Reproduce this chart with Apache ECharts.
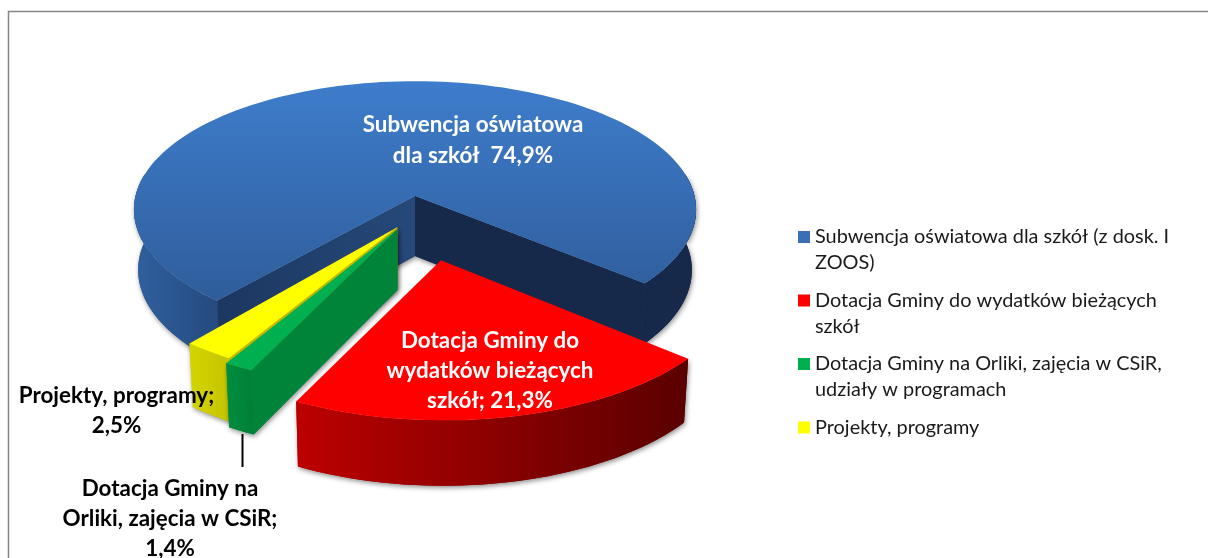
<!DOCTYPE html>
<html><head><meta charset="utf-8">
<style>html,body{margin:0;padding:0;background:#fff}#c{width:1208px;height:558px}</style>
<script src="https://cdn.jsdelivr.net/npm/echarts@6/dist/echarts.min.js"></script>
</head><body><div id="c"></div>
<script>
const categories = [
  'Subwencja oświatowa dla szkół (z dosk. I ZOOS)',
  'Dotacja Gminy do wydatków bieżących szkół',
  'Dotacja Gminy na Orliki, zajęcia w CSiR, udziały w programach',
  'Projekty, programy'
];
const shares = [74.9, 21.3, 1.4, 2.5];
const sliceLabels = [
  'Subwencja oświatowa\ndla szkół  74,9%',
  'Dotacja Gminy do\nwydatków bieżących\nszkół; 21,3%',
  'Dotacja Gminy na\nOrliki, zajęcia w CSiR;\n1,4%',
  'Projekty, programy;\n2,5%'
];
const legendLines = [
  ['Subwencja oświatowa dla szkół (z dosk. I', 'ZOOS)'],
  ['Dotacja Gminy do wydatków bieżących', 'szkół'],
  ['Dotacja Gminy na Orliki, zajęcia w CSiR,', 'udziały w programach'],
  ['Projekty, programy', ' ']
];
const swatches = ['#3A6FB8', '#FF0000', '#00B050', '#FFFF00'];

// projection of the tilted pie
const CX = 415, CY = 196, RX = 279.5, RY = 127, P = 0.106, H = 60, FIRST = 130.6;
const explode = [[0, 0], [0.088, 0.48], [-0.062, 0.255], [-0.062, 0.24]];
const radius = [1, 1.008, 1.045, 1.03];
const nudge = [0, 0, -1.1, -1];
const labelPos = [[473, 140], [490, 371], [170, 519], [116.5, 411]];
const total = shares.reduce((a, b) => a + b, 0);
const LG = (x0, y0, x1, y1, c0, c1) => new echarts.graphic.LinearGradient(x0, y0, x1, y1, [{offset: 0, color: c0}, {offset: 1, color: c1}]);
const looks = [
  {top: LG(0, 0, 0, 1, '#3E7DCC', '#2F5D9B'), bands: [LG(0, 0, 1, 0, '#30609F', '#254A7E'), '#16294A'],
   wallA: LG(0, 0, 1, 0, '#1C3760', '#26497A'), wallB: '#16294A'},
  {top: '#FF0000', bands: [LG(0, 0, 1, 0, '#BC0000', '#5A0000')], wallA: '#600000', wallB: '#600000'},
  {top: '#00B050', bands: [LG(0, 0, 1, 0, '#008E3F', '#007E37')], wallA: '#00843A', wallB: '#00843A'},
  {top: '#FFFF00', bands: [LG(0, 0, 1, 0, '#D4D400', '#C4C400')], wallA: '#C8B800', wallB: '#C8B800'}
];
const shadow = {shadowBlur: 5, shadowColor: 'rgba(0,0,0,0.45)', shadowOffsetY: 2, shadowOffsetX: 1};

function proj(x, z, down) {
  const s = 1 / (1 - P * z);
  const px = CX + RX * x * s, py = CY + RY * z * s;
  if (!down) return [px, py];
  return [CX + (px - CX) * 0.985, py + H * Math.sqrt(s)];
}
function arc(a0, a1, ox, oz, r, down) {
  const pts = [], n = Math.max(2, Math.ceil(Math.abs(a1 - a0) / 2));
  for (let i = 0; i <= n; i++) {
    const a = (a0 + (a1 - a0) * i / n) * Math.PI / 180;
    pts.push(proj(ox + r * Math.cos(a), oz + r * Math.sin(a), down));
  }
  return pts;
}
function poly(points, fill, extra) {
  return {type: 'polygon', silent: true, shape: {points}, style: Object.assign({fill}, extra || {})};
}
function wallFacing(apex, end, mid) {
  const d = [end[0] - apex[0], end[1] - apex[1]];
  const inner = d[0] * (mid[1] - apex[1]) - d[1] * (mid[0] - apex[0]);
  return d[0] * inner < 0;
}
function makeRender(idx) {
  return function (params, api) {
    const before = shares.slice(0, idx).reduce((a, b) => a + b, 0);
    const a0 = FIRST + nudge[idx] + before / total * 360;
    const a1 = a0 + api.value(0) / total * 360;
    const [ox, oz] = explode[idx], look = looks[idx], r = radius[idx];
    const sides = [];
    const apexT = proj(ox, oz), apexB = proj(ox, oz, true);
    const mid = (a0 + a1) / 2 * Math.PI / 180;
    const midPt = proj(ox + r * Math.cos(mid), oz + r * Math.sin(mid));
    const topArc = arc(a0, a1, ox, oz, r);
    const spans = idx === 0 ? [[a0, 190], [350, a1]] : [[a0, a1]];
    spans.forEach(([s0, s1], i) => {
      sides.push([arc(s0, s1, ox, oz, r).concat(arc(s0, s1, ox, oz, r, true).reverse()), look.bands[i]]);
    });
    [[a0, look.wallA], [a1, look.wallB]].forEach(([a, fill]) => {
      const t = a * Math.PI / 180;
      const end = proj(ox + r * Math.cos(t), oz + r * Math.sin(t));
      const endB = proj(ox + r * Math.cos(t), oz + r * Math.sin(t), true);
      if (wallFacing(apexT, end, midPt)) sides.push([[apexT, end, endB, apexB], fill]);
    });
    const children = sides.map(([p, f]) => poly(p, f, shadow)).concat(sides.map(([p, f]) => poly(p, f)));
    children.push(poly([apexT].concat(topArc), look.top));
    return {type: 'group', children};
  };
}
function labelRender(params, api) {
  const i = api.value(0);
  const white = i < 2;
  const kids = [{
    type: 'text', silent: true, x: labelPos[i][0], y: labelPos[i][1],
    style: {text: sliceLabels[i], fill: white ? '#FFFFFF' : '#000000', align: 'center', verticalAlign: 'middle',
      font: 'bold 22.4px Lato', lineHeight: i === 0 ? 31 : 30}
  }];
  if (i === 2) kids.push({type: 'line', silent: true, shape: {x1: 242.5, y1: 434, x2: 242.5, y2: 467}, style: {stroke: '#000', lineWidth: 2}});
  return {type: 'group', children: kids};
}
const series = categories.map((name, i) => ({
  type: 'custom', name, coordinateSystem: 'none', silent: true,
  itemStyle: {color: swatches[i]}, data: [[shares[i]]], renderItem: makeRender(i), z: [1, 4, 3, 2][i]
}));
series.push({type: 'custom', coordinateSystem: 'none', silent: true, z: 9, data: [[0], [1], [2], [3]], renderItem: labelRender});

const chart = echarts.init(document.getElementById('c'), null, {renderer: 'canvas'});
chart.setOption({
  animation: false,
  backgroundColor: '#fff',
  graphic: [{type: 'rect', silent: true, z: -1, shape: {x: 8.5, y: 11.5, width: 1400, height: 800}, style: {fill: 'none', stroke: '#868686', lineWidth: 1.5}}],
  legend: {
    orient: 'vertical', left: 798, top: 198, padding: 0, itemWidth: 12, itemHeight: 12, itemGap: -14.5, selectedMode: false, icon: 'rect',
    data: categories,
    formatter: n => { const l = legendLines[categories.indexOf(n)]; return ' \n' + l[0] + '\n' + l[1]; },
    textStyle: {fontFamily: 'Lato', fontSize: 19.9, color: '#1a1a1a', lineHeight: 26}
  },
  series
});
</script></body></html>
